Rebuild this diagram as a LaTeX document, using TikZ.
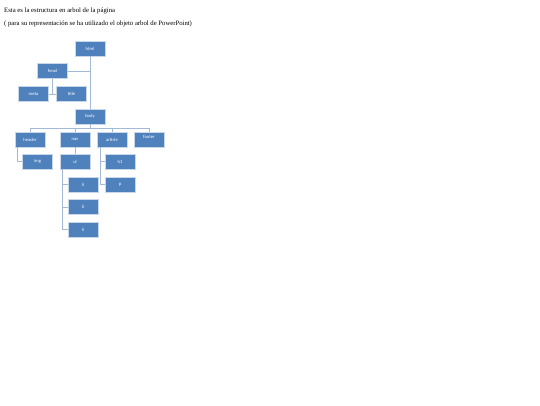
\documentclass[tikz,border=0pt]{standalone}
\usepackage{fontspec}
\setmainfont{Liberation Serif}
\newfontfamily\boxfont{Carlito}
\definecolor{boxblue}{HTML}{4F81BD}
\definecolor{boxedge}{HTML}{C9D7EA}
\definecolor{linkblue}{HTML}{A3B9D6}
\tikzset{%
    tagbox/.style = {fill=boxblue, draw=boxedge, line width=0.5pt,
        minimum width=30pt, minimum height=15pt, inner sep=0pt,
        text=white, font=\boxfont\fontsize{4.6}{5}\selectfont},
    link/.style = {draw=linkblue, line width=0.8pt}
}
\begin{document}
\begin{tikzpicture}[%
        x = 1pt,
        y = -1pt
    ]
      \useasboundingbox (0,0) rectangle (540,405);
      % titles
      \node[anchor=base west, inner sep=0pt, font=\fontsize{6.7}{8}\selectfont] (t1) at (4,12.5) {Esta es la estructura en arbol de la página};
      \node[anchor=base west, inner sep=0pt, font=\fontsize{6.7}{8}\selectfont] (t2) at (4,25) {( para su representación se ha utilizado el objeto arbol de PowerPoint)};
      % corners of the links
      \coordinate (bus) at (90,128.3);
      \coordinate (hr) at (17.5,147);
      \coordinate (ulb) at (62.5,169);
      \coordinate (arb) at (100,147);
      % boxes
      \node[tagbox] (html) at (90,48.5) {html};
      \node[tagbox] (head) at (52.5,71) {head};
      \node[tagbox] (meta) at (33.5,94) {meta};
      \node[tagbox] (title) at (71.5,94) {title};
      \node[tagbox] (body) at (90,116.5) {body};
      \node[tagbox] (header) at (30,139.5) {header};
      \node[tagbox] (nav) at (75,139.5) {nav};
      \node[tagbox] (article) at (112,139.5) {article};
      \node[tagbox, anchor=north] (footer) at (149,132) {\raisebox{6pt}{footer}};
      \node[tagbox] (img) at (37.5,161.5) {img};
      \node[tagbox] (ul) at (75,161.5) {ul};
      \node[tagbox] (h1) at (120,161.5) {h1};
      \node[tagbox] (p) at (120,184.5) {p};
      \node[tagbox] (li1) at (83,184.5) {li};
      \node[tagbox] (li2) at (83,207) {li};
      \node[tagbox] (li3) at (83,229.5) {li};
      % links
      \draw[link] (html.south) -- (body.north);
      \draw[link] (head.east) -- (head.east -| html.south);
      \draw[link] (head.south) -- (head.south |- meta.east);
      \draw[link] (meta.east) -- (title.west);
      \draw[link] (body.south) -- (bus);
      \draw[link] (header.north |- bus) -- (footer.north |- bus);
      \foreach \n in {header,nav,article,footer}
        \draw[link] (\n.north |- bus) -- (\n.north);
      \draw[link] (hr) -- (hr |- img.west) -- (img.west);
      \draw[link] (nav.south) -- (ul.north);
      \draw[link] (ulb) -- (ulb |- li3.west) -- (li3.west);
      \foreach \n in {li1,li2}
        \draw[link] (ulb |- \n.west) -- (\n.west);
      \draw[link] (arb) -- (arb |- p.west) -- (p.west);
      \draw[link] (arb |- h1.west) -- (h1.west);
    \end{tikzpicture}
\end{document}
